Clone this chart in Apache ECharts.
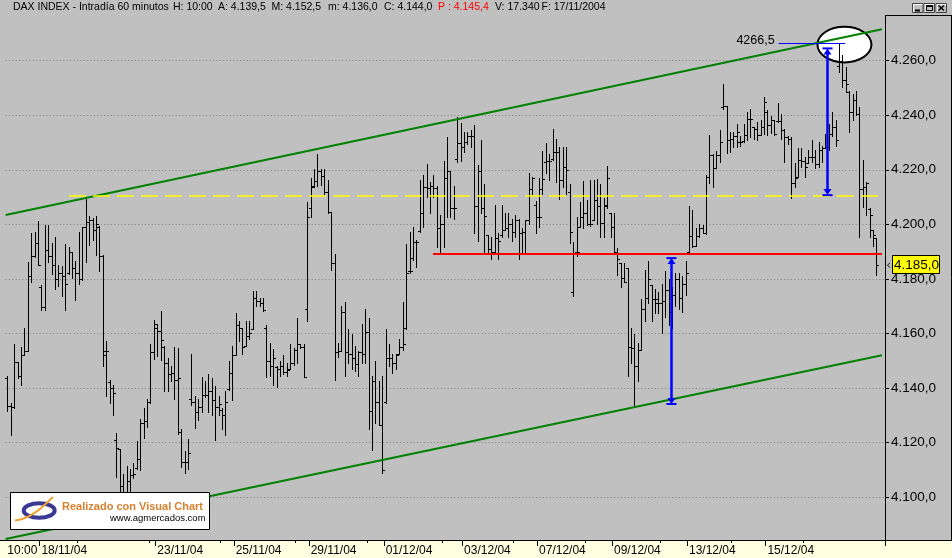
<!DOCTYPE html>
<html><head><meta charset="utf-8">
<script src="https://cdn.jsdelivr.net/npm/echarts@6/dist/echarts.min.js"></script>
<style>html,body{margin:0;padding:0;background:#c0c0c0;}#c{width:952px;height:558px;}</style>
</head><body><div id="c"></div>
<script>
// ---- DATA (hourly OHLC, DAX, 17/11/2004 10:00 ... 17/12/2004) ----
const opens = [
4143.5,4133.3,4133.0,4149.4,4144.5,4152.2,4153.5,4181.0,
4188.5,4193.0,4177.0,4169.5,4190.5,4188.5,4185.0,4180.0,
4182.0,4181.0,4182.0,4190.0,4184.0,4182.0,4180.0,4199.0,
4201.0,4201.5,4198.0,4199.0,4188.5,4153.5,4142.0,4140.0,
4121.0,4117.5,4104.0,4102.0,4106.0,4108.0,4110.5,4114.0,
4127.0,4128.0,4135.0,4153.0,4162.0,4161.0,4155.0,4149.0,
4145.0,4145.5,4143.0,4124.0,4113.0,4113.0,4136.0,4135.0,
4131.0,4133.0,4137.5,4137.5,4139.0,4135.5,4133.0,4132.0,
4130.0,4139.5,4145.3,4152.0,4163.0,4162.0,4155.4,4159.0,
4161.6,4173.0,4172.0,4171.0,4162.0,4150.0,4148.0,4147.5,
4147.0,4148.0,4146.0,4147.0,4149.0,4154.0,4156.0,4155.0,
4168.8,4206.0,4213.9,4215.7,4219.7,4217.7,4212.0,4204.5,
4185.8,4153.0,4153.6,4168.0,4153.0,4152.4,4151.0,4148.7,
4153.0,4152.4,4160.5,4131.7,4142.7,4135.0,4126.5,4135.0,
4151.0,4151.0,4149.3,4152.4,4155.0,4162.0,4183.0,4187.5,
4193.5,4197.5,4204.0,4213.7,4213.4,4214.0,4213.4,4198.5,
4200.0,4217.1,4219.5,4206.1,4224.0,4229.7,4228.2,4230.0,
4232.5,4232.5,4206.6,4219.5,4206.1,4196.0,4191.0,4190.0,
4195.0,4196.0,4198.0,4198.5,4200.0,4197.0,4201.5,4196.7,
4197.3,4201.5,4213.1,4207.0,4202.7,4213.0,4223.0,4223.1,
4224.0,4226.4,4226.4,4216.1,4221.0,4212.0,4175.0,4190.0,
4199.0,4202.7,4204.0,4200.1,4201.5,4208.8,4206.6,4200.3,
4207.0,4204.0,4199.0,4190.0,4185.8,4180.3,4183.9,4155.0,
4154.8,4148.1,4154.0,4168.8,4173.0,4177.9,4172.6,4171.0,
4171.0,4172.0,4176.0,4168.0,4174.0,4180.0,4173.0,4178.0,
4190.0,4195.7,4192.1,4195.8,4198.6,4196.7,4217.4,4225.3,
4220.5,4225.3,4243.0,4243.2,4231.0,4231.2,4232.3,4230.0,
4230.5,4232.6,4238.7,4235.5,4235.0,4232.6,4235.7,4241.0,
4236.3,4238.1,4237.8,4237.9,4234.5,4232.0,4231.4,4215.0,
4217.5,4223.5,4223.3,4222.5,4224.7,4224.7,4222.0,4227.4,
4228.0,4228.5,4233.0,4235.7,4258.0,4260.0,4253.0,4248.5,
4241.1,4245.4,4240.5,4213.0,4213.8,4205.5,4198.0,4195.0];
const highs = [
4144.3,4134.3,4156.2,4149.4,4155.0,4162.0,4186.1,4196.7,
4197.3,4201.3,4177.8,4199.8,4199.8,4193.3,4195.2,4185.0,
4184.8,4192.8,4191.5,4190.0,4186.7,4197.3,4199.1,4209.1,
4203.0,4202.2,4203.0,4199.4,4188.8,4157.3,4143.0,4140.9,
4123.5,4117.7,4108.3,4111.3,4110.1,4112.6,4120.7,4128.7,
4132.7,4136.0,4156.2,4165.0,4163.5,4168.3,4155.2,4151.0,
4148.2,4155.0,4154.6,4124.8,4116.8,4121.1,4152.6,4137.2,
4136.0,4143.9,4142.4,4145.2,4143.7,4140.6,4137.2,4132.5,
4138.7,4150.0,4155.2,4167.3,4164.5,4162.1,4164.5,4164.5,
4175.4,4175.4,4173.0,4173.0,4162.9,4156.4,4154.2,4148.1,
4150.0,4152.0,4149.3,4156.0,4154.8,4165.7,4156.0,4156.0,
4208.2,4217.1,4220.3,4225.6,4220.3,4220.3,4216.3,4204.6,
4189.2,4156.6,4170.2,4171.4,4161.5,4159.7,4155.2,4153.6,
4163.3,4168.8,4165.7,4144.2,4150.0,4142.7,4144.2,4161.5,
4156.0,4152.4,4152.4,4157.8,4171.4,4192.8,4197.3,4199.1,
4194.3,4216.1,4217.9,4222.2,4215.5,4218.0,4213.9,4203.3,
4223.1,4232.1,4219.7,4213.9,4239.2,4237.3,4233.7,4233.7,
4234.5,4236.4,4221.9,4231.0,4214.9,4196.1,4195.5,4207.0,
4196.7,4207.0,4204.0,4204.0,4202.0,4203.3,4202.1,4198.5,
4201.5,4218.8,4217.3,4208.4,4217.1,4227.0,4229.7,4225.8,
4234.9,4231.3,4228.2,4228.2,4228.2,4214.9,4193.6,4202.7,
4208.2,4215.7,4208.8,4216.1,4216.1,4216.5,4214.9,4209.8,
4221.2,4204.0,4204.2,4191.2,4185.8,4185.8,4183.9,4162.1,
4159.7,4156.3,4172.6,4183.3,4186.6,4177.9,4176.3,4175.1,
4178.0,4183.0,4180.0,4177.0,4182.0,4182.0,4181.0,4186.4,
4206.7,4205.3,4198.6,4200.1,4199.8,4218.0,4232.6,4225.9,
4226.9,4234.7,4251.5,4243.2,4233.8,4233.8,4236.9,4232.3,
4236.9,4241.1,4242.4,4235.7,4237.5,4238.1,4246.6,4242.0,
4239.6,4238.3,4244.4,4240.5,4235.0,4232.3,4232.0,4222.3,
4228.1,4227.8,4224.7,4227.4,4231.0,4227.4,4230.2,4228.6,
4233.0,4236.9,4241.1,4238.3,4266.5,4262.0,4257.6,4249.0,
4247.8,4249.0,4243.0,4223.5,4215.6,4205.9,4198.0,4195.0];
const lows = [
4131.5,4122.9,4132.7,4143.7,4140.9,4152.2,4153.4,4179.0,
4187.9,4184.9,4168.4,4168.4,4186.3,4181.8,4176.3,4177.5,
4173.8,4168.4,4181.8,4180.2,4172.1,4178.2,4179.4,4186.3,
4192.4,4194.3,4188.8,4183.0,4148.2,4137.0,4134.3,4130.0,
4107.3,4099.0,4099.0,4100.0,4101.0,4107.1,4110.1,4109.9,
4121.7,4125.7,4134.5,4150.6,4151.6,4150.4,4138.8,4138.8,
4142.7,4136.0,4123.2,4111.1,4108.7,4110.4,4133.9,4125.4,
4128.2,4131.1,4136.7,4131.1,4129.9,4120.9,4129.9,4125.0,
4122.9,4139.4,4135.6,4152.0,4157.2,4152.4,4155.4,4157.8,
4161.5,4170.0,4170.0,4168.2,4143.9,4144.5,4141.1,4140.2,
4144.5,4145.0,4144.5,4146.9,4148.3,4149.3,4154.8,4143.9,
4164.5,4202.7,4213.7,4213.9,4214.3,4211.2,4204.2,4183.1,
4143.0,4151.2,4153.6,4144.5,4149.3,4146.9,4146.3,4144.5,
4149.3,4149.3,4125.1,4117.2,4127.0,4126.4,4108.7,4134.5,
4148.1,4145.4,4146.9,4152.4,4154.0,4161.7,4182.1,4187.0,
4184.5,4197.3,4199.1,4210.0,4204.0,4210.0,4191.6,4189.4,
4191.8,4202.7,4202.7,4202.1,4222.8,4223.1,4226.4,4229.4,
4228.2,4196.7,4194.0,4204.0,4190.0,4189.1,4187.2,4189.1,
4187.2,4195.5,4197.9,4195.5,4194.0,4195.2,4187.2,4189.1,
4189.1,4200.1,4211.0,4196.9,4199.1,4211.2,4218.8,4216.1,
4223.4,4215.5,4209.4,4213.7,4211.2,4193.0,4173.6,4188.4,
4198.9,4198.5,4199.7,4199.3,4201.5,4200.1,4195.2,4195.5,
4206.1,4195.5,4190.0,4181.5,4177.0,4178.7,4144.5,4149.3,
4133.6,4142.7,4154.0,4164.5,4171.2,4164.5,4167.5,4167.5,
4160.0,4166.0,4163.0,4162.0,4170.0,4169.0,4168.0,4174.0,
4189.7,4191.6,4192.1,4195.5,4196.7,4196.5,4215.0,4213.8,
4220.5,4222.9,4242.4,4226.0,4226.5,4228.4,4228.4,4228.6,
4230.2,4231.0,4232.0,4231.4,4230.8,4232.6,4233.2,4232.6,
4233.5,4232.6,4237.5,4231.4,4222.9,4229.6,4209.5,4213.8,
4217.4,4221.1,4217.4,4222.3,4222.9,4220.5,4221.1,4222.9,
4228.0,4227.2,4232.3,4228.6,4256.0,4250.5,4248.4,4233.8,
4238.1,4239.9,4195.5,4206.5,4203.4,4195.5,4191.9,4181.5];
const closes = [
4133.3,4133.0,4149.5,4144.5,4152.0,4153.5,4181.0,4188.5,
4193.0,4185.0,4169.5,4190.5,4188.5,4185.0,4180.0,4182.0,
4181.0,4178.0,4190.0,4184.0,4182.0,4180.0,4199.0,4201.0,
4201.5,4198.0,4200.0,4188.5,4152.0,4153.5,4140.0,4138.0,
4118.0,4104.0,4102.0,4106.0,4108.0,4108.5,4114.0,4127.0,
4128.0,4135.0,4153.0,4163.5,4161.0,4157.5,4149.0,4145.0,
4145.5,4143.0,4143.5,4113.0,4113.0,4116.0,4135.0,4131.0,
4133.0,4137.5,4137.5,4139.0,4135.5,4133.0,4134.0,4130.0,
4135.0,4145.3,4152.0,4163.0,4162.0,4155.0,4159.0,4160.0,
4173.0,4172.0,4171.0,4168.5,4150.0,4148.0,4151.0,4147.0,
4148.0,4146.0,4146.5,4149.0,4154.0,4156.0,4155.0,4144.0,
4202.5,4213.5,4215.7,4219.7,4217.7,4212.0,4204.5,4185.8,
4153.0,4153.6,4168.0,4153.0,4152.4,4151.0,4148.7,4153.0,
4152.4,4160.5,4131.7,4142.7,4135.0,4126.5,4110.0,4151.0,
4151.0,4149.3,4152.0,4155.0,4156.0,4182.0,4183.0,4193.5,
4193.6,4204.0,4213.7,4213.4,4214.0,4213.4,4198.5,4200.1,
4217.1,4219.5,4206.1,4206.1,4229.7,4228.2,4230.0,4232.5,
4232.5,4206.6,4219.5,4206.1,4203.0,4191.0,4190.0,4195.0,
4194.0,4198.0,4198.5,4200.0,4197.0,4201.5,4196.7,4197.3,
4201.5,4213.1,4217.0,4202.7,4202.7,4216.5,4223.1,4223.1,
4226.4,4226.4,4216.1,4221.0,4220.0,4197.0,4189.0,4190.0,
4202.7,4204.0,4200.1,4200.1,4208.8,4206.6,4200.3,4206.6,
4217.1,4199.0,4190.0,4187.2,4180.3,4178.7,4155.0,4154.8,
4148.1,4154.0,4168.8,4173.0,4180.0,4172.6,4172.6,4171.0,
4172.0,4176.0,4168.0,4174.0,4180.0,4173.0,4178.0,4182.0,
4195.7,4192.1,4195.8,4198.6,4196.7,4217.4,4225.3,4220.5,
4225.3,4230.2,4243.2,4231.0,4231.2,4232.3,4233.8,4230.0,
4232.6,4238.7,4238.7,4235.0,4232.6,4235.7,4244.8,4236.3,
4238.1,4233.0,4237.9,4234.5,4232.0,4231.4,4215.0,4216.8,
4223.5,4223.3,4221.0,4224.7,4224.7,4222.0,4227.4,4227.8,
4228.5,4233.0,4235.7,4231.0,4260.0,4253.0,4251.5,4241.1,
4245.4,4240.5,4213.0,4213.8,4215.0,4203.4,4196.1,4185.0];

const N_CATS = 258;                       // bar slots on the time axis
const categories = Array.from({length: N_CATS}, (_, i) => String(i));
const xTickIndex = [0, 10, 44, 67, 89, 111, 134, 156, 178, 200, 223];
const xTickText  = ['10:00','18/11/04','23/11/04','25/11/04','29/11/04','01/12/04','03/12/04','07/12/04','09/12/04','13/12/04','15/12/04'];
const xMinorTickIndex = [21, 42, 63, 85, 106, 128, 149, 170, 192, 213, 234];
const yMin = 4080, yMax = 4280, yStep = 20;

// drawn studies (bar-index, price)
const upperChannel = [[-0.5, 4203.4], [256.6, 4271.5]];
const lowerChannel = [[-0.5, 4084.6], [256.6, 4152.0]];
const resistance   = [[18.1, 4210.4], [256.6, 4210.4]];
const support      = [[124.9, 4189.1], [256.6, 4189.1]];
const arrows       = [[194.6, 4134.1, 4187.6], [240.4, 4210.7, 4264.5]];
const peakCircle   = [[245.6, 4265.9]];
const peakNote     = [[226.3, 245.8, 4266.5]];
const peakText     = '4266,5';
const lastPrice    = 4185.0;

// ---- CHART ----
const FONT = '"Liberation Sans", Arial, sans-serif';
function fmtPrice(v) {
  const s = Number(v).toFixed(1);
  const parts = s.split('.');
  return parts[0].replace(/\B(?=(\d{3})+(?!\d))/g, '.') + ',' + parts[1];
}
const ohlcData = opens.map((o, i) => [i, o, highs[i], lows[i], closes[i]]);

const chart = echarts.init(document.getElementById('c'), null, {renderer: 'canvas'});
const option = {
  animation: false,
  backgroundColor: '#c0c0c0',
  grid: {left: 5.6, right: 67, top: 6.14, bottom: 6.46, containLabel: false, outerBoundsMode: 'none'},
  xAxis: [
    {type: 'category', data: categories, boundaryGap: true, position: 'bottom', offset: -11.54, z: 120,
     axisLine: {show: false, onZero: false}, splitLine: {show: false},
     axisTick: {show: true, interval: (i) => i > 0 && xTickIndex.includes(i), length: 6, lineStyle: {color: '#000', width: 1}},
     axisLabel: {show: true, interval: (i) => xTickIndex.includes(i), hideOverlap: false,
       formatter: (v, i) => xTickText[xTickIndex.indexOf(Number(v))] || '',
       align: 'left', margin: 5, color: '#000', fontSize: 12, fontFamily: FONT}},
    {type: 'value', min: -0.5, max: N_CATS - 0.5, show: false, axisLine: {onZero: false}},
    {type: 'category', data: categories, boundaryGap: true, position: 'bottom', offset: -11.54, z: 120,
     axisLine: {show: false, onZero: false}, splitLine: {show: false}, axisLabel: {show: false},
     axisTick: {show: true, interval: (i) => xMinorTickIndex.includes(i), length: 3, lineStyle: {color: '#000', width: 1}}}
  ],
  yAxis: {
    type: 'value', position: 'right', min: yMin, max: yMax, interval: yStep,
    axisLine: {show: true, onZero: false, lineStyle: {color: '#000', width: 1}},
    axisTick: {show: true, length: 4, lineStyle: {color: '#000'}},
    axisLabel: {show: true, formatter: fmtPrice, color: '#000', fontSize: 13.5, fontFamily: FONT, margin: 6},
    splitLine: {show: true, lineStyle: {color: '#808080', width: 1, type: [1, 2.4]}}
  },
  series: [
    {type: 'custom', name: 'marker', xAxisIndex: 1, yAxisIndex: 0, z: 1, silent: true,
     data: peakCircle,
     renderItem: (params, api) => {
       const p = api.coord([api.value(0), api.value(1)]);
       return {type: 'ellipse', shape: {cx: p[0], cy: p[1], rx: 27, ry: 17.8},
               style: {fill: '#ffffff', stroke: '#000000', lineWidth: 2}};
     }},
    {type: 'custom', name: 'DAX', xAxisIndex: 1, yAxisIndex: 0, z: 2, silent: true,
     data: ohlcData,
     renderItem: (params, api) => {
       const i = api.value(0);
       const ph = api.coord([i, api.value(2)]);
       const pl = api.coord([i, api.value(3)]);
       const x = Math.round(ph[0]) + 0.5;
       const yo = Math.round(api.coord([i, api.value(1)])[1]) + 0.5;
       const yc = Math.round(api.coord([i, api.value(4)])[1]) + 0.5;
       const st = {stroke: '#000', lineWidth: 1};
       return {type: 'group', children: [
         {type: 'line', shape: {x1: x, y1: Math.round(ph[1]), x2: x, y2: Math.round(pl[1]) + 1}, style: st},
         {type: 'line', shape: {x1: x - 2.5, y1: yo, x2: x, y2: yo}, style: st},
         {type: 'line', shape: {x1: x, y1: yc, x2: x + 2.5, y2: yc}, style: st}
       ]};
     }},
    {type: 'line', xAxisIndex: 1, yAxisIndex: 0, z: 3, data: upperChannel, symbol: 'none', silent: true,
     lineStyle: {color: '#008000', width: 2}},
    {type: 'line', xAxisIndex: 1, yAxisIndex: 0, z: 3, data: lowerChannel, symbol: 'none', silent: true,
     lineStyle: {color: '#008000', width: 2}},
    {type: 'line', xAxisIndex: 1, yAxisIndex: 0, z: 3, data: resistance, symbol: 'none', silent: true,
     lineStyle: {color: '#ffff00', width: 1.5, type: [17, 7]}},
    {type: 'line', xAxisIndex: 1, yAxisIndex: 0, z: 3, data: support, symbol: 'none', silent: true,
     lineStyle: {color: '#ff0000', width: 2}},
    {type: 'custom', xAxisIndex: 1, yAxisIndex: 0, z: 4, silent: true, data: arrows,
     renderItem: (params, api) => {
       const v = api.value(0);
       const pb = api.coord([v, api.value(1)]);
       const pt = api.coord([v, api.value(2)]);
       const x = Math.round(pb[0]) + 0.5;
       const c = '#0000ff';
       return {type: 'group', children: [
         {type: 'line', shape: {x1: x, y1: pt[1] + 3, x2: x, y2: pb[1] - 3}, style: {stroke: c, lineWidth: 2.5}},
         {type: 'line', shape: {x1: x - 5, y1: pt[1], x2: x + 5, y2: pt[1]}, style: {stroke: c, lineWidth: 2}},
         {type: 'polygon', shape: {points: [[x, pt[1]], [x - 4, pt[1] + 6], [x + 4, pt[1] + 6]]}, style: {fill: c}},
         {type: 'line', shape: {x1: x - 5, y1: pb[1], x2: x + 5, y2: pb[1]}, style: {stroke: c, lineWidth: 2}},
         {type: 'polygon', shape: {points: [[x, pb[1]], [x - 4, pb[1] - 6], [x + 4, pb[1] - 6]]}, style: {fill: c}}
       ]};
     }},
    {type: 'custom', xAxisIndex: 1, yAxisIndex: 0, z: 4, silent: true, data: peakNote,
     renderItem: (params, api) => {
       const p1 = api.coord([api.value(0), api.value(2)]);
       const p2 = api.coord([api.value(1), api.value(2)]);
       const y = Math.round(p1[1]) + 0.5;
       return {type: 'group', children: [
         {type: 'line', shape: {x1: p1[0], y1: y, x2: p2[0], y2: y}, style: {stroke: '#0000ff', lineWidth: 1}},
         {type: 'text', x: p1[0] - 4, y: y - 2.5,
          style: {text: peakText, fill: '#000', font: '12.5px ' + FONT, align: 'right', verticalAlign: 'middle'}}
       ]};
     }}
  ]
};
chart.setOption(option);

// ---- frame, header, logo, last-price tag ----
const py = chart.convertToPixel({yAxisIndex: 0}, lastPrice);
const hdr = (x, text, fill) => ({type: 'text', x: x, y: 7.5, z: 102,
  style: {text: text, fill: fill || '#000', font: '10.5px ' + FONT, verticalAlign: 'middle'}});
const btn = (bx) => ({type: 'rect', z: 102, shape: {x: bx + 0.5, y: 3.5, width: 10.5, height: 9},
  style: {fill: '#c0c0c0', stroke: '#404040', lineWidth: 1}});
const graphics = [
  {type: 'rect', z: 100, shape: {x: 0, y: 0, width: 952, height: 15}, style: {fill: '#c0c0c0'}},
  {type: 'rect', z: 100, shape: {x: 0, y: 540, width: 952, height: 18}, style: {fill: '#ffffe1'}},
  {type: 'line', z: 101, shape: {x1: 0, y1: 540.5, x2: 952, y2: 540.5}, style: {stroke: '#000', lineWidth: 1}},
  {type: 'line', z: 101, shape: {x1: 885, y1: 15.5, x2: 952, y2: 15.5}, style: {stroke: '#000', lineWidth: 1}},
  {type: 'line', z: 101, shape: {x1: 951.5, y1: 15, x2: 951.5, y2: 540}, style: {stroke: '#000', lineWidth: 1}},
  hdr(13, 'DAX INDEX - Intradía 60 minutos'),
  hdr(173, 'H: 10:00'),
  hdr(218, 'A: 4.139,5'),
  hdr(271.5, 'M: 4.152,5'),
  hdr(328, 'm: 4.136,0'),
  hdr(384, 'C: 4.144,0'),
  hdr(438, 'P : 4.145,4', '#ff0000'),
  hdr(495, 'V: 17.340'),
  hdr(541.5, 'F: 17/11/2004'),
  btn(912), btn(923.5), btn(935.5),
  {type: 'polyline', z: 103, shape: {points: [[913.5, 12], [913.5, 4.5], [922.5, 4.5]]}, style: {stroke: '#fff', lineWidth: 1, fill: null}},
  {type: 'polyline', z: 103, shape: {points: [[925, 12], [925, 4.5], [934, 4.5]]}, style: {stroke: '#fff', lineWidth: 1, fill: null}},
  {type: 'polyline', z: 103, shape: {points: [[937, 12], [937, 4.5], [946, 4.5]]}, style: {stroke: '#fff', lineWidth: 1, fill: null}},
  {type: 'line', z: 103, shape: {x1: 915, y1: 10.5, x2: 920, y2: 10.5}, style: {stroke: '#000', lineWidth: 2}},
  {type: 'rect', z: 103, shape: {x: 926.5, y: 5.5, width: 6, height: 5}, style: {fill: null, stroke: '#000', lineWidth: 1}},
  {type: 'line', z: 103, shape: {x1: 926.5, y1: 6, x2: 932.5, y2: 6}, style: {stroke: '#000', lineWidth: 2}},
  {type: 'line', z: 103, shape: {x1: 938.5, y1: 5.5, x2: 944, y2: 10.5}, style: {stroke: '#000', lineWidth: 1.5}},
  {type: 'line', z: 103, shape: {x1: 944, y1: 5.5, x2: 938.5, y2: 10.5}, style: {stroke: '#000', lineWidth: 1.5}},
  // logo
  {type: 'rect', z: 105, shape: {x: 10.5, y: 492.5, width: 199, height: 37}, style: {fill: '#ffffff', stroke: '#000', lineWidth: 1}},
  {type: 'ellipse', z: 106, shape: {cx: 39.2, cy: 510.5, rx: 15.5, ry: 7.2}, style: {fill: null, stroke: '#3a3a96', lineWidth: 4}},
  {type: 'bezierCurve', z: 107, shape: {x1: 53, y1: 497, cpx1: 46, cpy1: 503, cpx2: 34, cpy2: 518, x2: 15, y2: 520.5}, style: {stroke: '#f0a030', lineWidth: 2, fill: null}},
  {type: 'text', z: 106, x: 62, y: 507, style: {text: 'Realizado con Visual Chart', fill: '#d9802e', font: 'bold 11px ' + FONT, verticalAlign: 'middle'}},
  {type: 'text', z: 106, x: 110, y: 518.5, style: {text: 'www.agmercados.com', fill: '#000', font: '9.5px ' + FONT, verticalAlign: 'middle'}},
  // last price tag
  {type: 'rect', z: 110, shape: {x: 892.5, y: Math.round(py) - 9.5, width: 47, height: 18}, style: {fill: '#ffff00', stroke: '#000', lineWidth: 1}},
  {type: 'text', z: 111, x: 894, y: py, style: {text: fmtPrice(lastPrice), fill: '#000', font: '13.5px ' + FONT, verticalAlign: 'middle'}},
  {type: 'polyline', z: 111, shape: {points: [[890, py - 2.5], [887.5, py], [890, py + 2.5]]}, style: {stroke: '#000', lineWidth: 1, fill: null}}
];
chart.setOption({graphic: {elements: graphics}});
</script>
</body></html>
